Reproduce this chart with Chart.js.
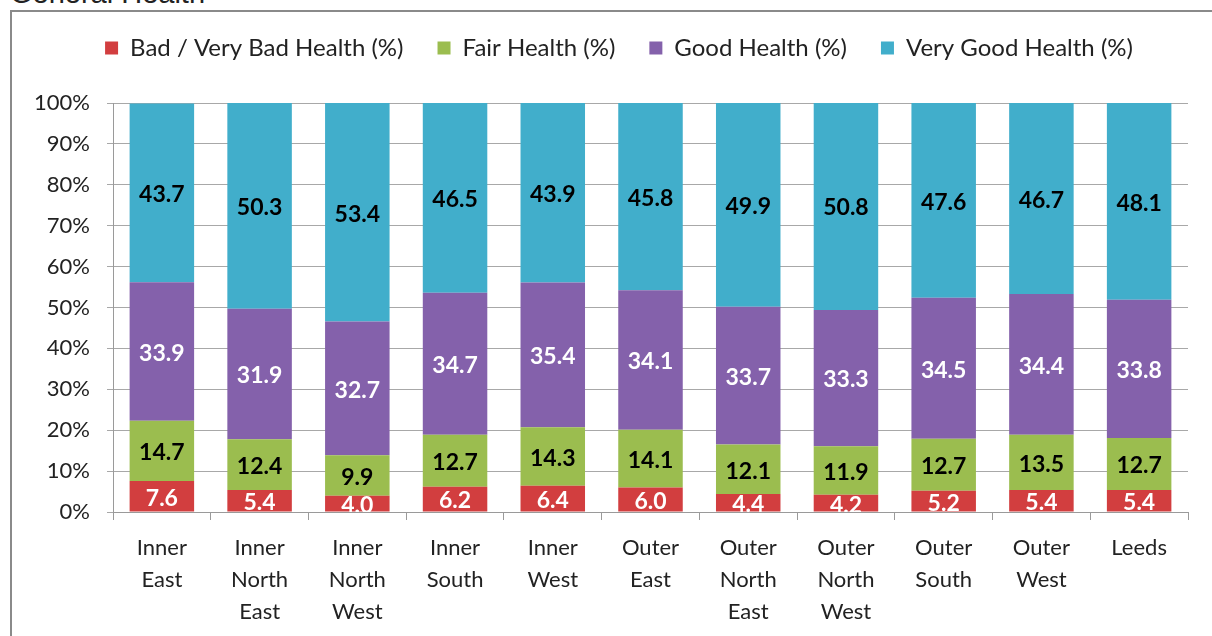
<!DOCTYPE html>
<html>
<head>
<meta charset="utf-8">
<script src="https://cdn.jsdelivr.net/npm/chart.js@4/dist/chart.umd.min.js"></script>
<style>
  html, body { margin: 0; padding: 0; background: #fff; overflow: hidden; }
  #wrap { position: relative; width: 1212px; height: 636px; overflow: hidden; }
  #heading { position: absolute; left: 10px; top: -21px; font: 29px/29px "Liberation Sans", Arial, sans-serif; color: #222; }
  #frame { position: absolute; left: 10px; top: 10px; width: 1240px; height: 660px; border: 2px solid #8a8a8a; box-sizing: border-box; }
  #chartBox { position: absolute; left: 0; top: 0; width: 1212px; height: 636px; }
</style>
</head>
<body>
<div id="wrap">
  <div id="heading">General Health</div>
  <div id="frame"></div>
  <div id="chartBox"><canvas id="healthChart" width="1212" height="636"></canvas></div>
</div>
<script>
'use strict'
const areas = [['Inner', 'East'], ['Inner', 'North', 'East'], ['Inner', 'North', 'West'], ['Inner', 'South'], ['Inner', 'West'],
  ['Outer', 'East'], ['Outer', 'North', 'East'], ['Outer', 'North', 'West'], ['Outer', 'South'], ['Outer', 'West'], ['Leeds']];
const badHealth = [7.6, 5.4, 4.0, 6.2, 6.4, 6.0, 4.4, 4.2, 5.2, 5.4, 5.4];
const fairHealth = [14.7, 12.4, 9.9, 12.7, 14.3, 14.1, 12.1, 11.9, 12.7, 13.5, 12.7];
const goodHealth = [33.9, 31.9, 32.7, 34.7, 35.4, 34.1, 33.7, 33.3, 34.5, 34.4, 33.8];
const veryGoodHealth = [43.7, 50.3, 53.4, 46.5, 43.9, 45.8, 49.9, 50.8, 47.6, 46.7, 48.1];

// extra room between the legend and the plot, and legend nudged right a bit
const legendGap = {
  id: 'legendGap',
  beforeInit(chart) {
    const fit = chart.legend.fit;
    chart.legend.fit = function () {
      fit.bind(chart.legend)();
      this.height += 33;
    };
  },
  afterLayout(chart) {
    chart.legend.left += 50;
  }
};

// writes the value in the middle of each segment, clipped to the plot like the original
const segmentLabels = {
  id: 'segmentLabels',
  afterDatasetsDraw(chart) {
    const ctx = chart.ctx;
    const area = chart.chartArea;
    ctx.save();
    ctx.beginPath();
    ctx.rect(area.left, area.top, area.right - area.left, area.bottom - area.top);
    ctx.clip();
    ctx.font = 'bold 23px Lato, sans-serif';
    ctx.textAlign = 'center';
    ctx.textBaseline = 'middle';
    chart.data.datasets.forEach((ds, i) => {
      const meta = chart.getDatasetMeta(i);
      ctx.fillStyle = ds.labelColor;
      meta.data.forEach((bar, j) => {
        const y = (bar.y + bar.base) / 2;
        ctx.fillText(ds.data[j].toFixed(1), bar.x, y + 2);
      });
    });
    ctx.restore();
  }
};

const ctx = document.getElementById('healthChart').getContext('2d');

const data = {
  labels: areas,
  datasets: [
    { label: 'Bad / Very Bad Health (%)', data: badHealth, backgroundColor: '#d23e3f', labelColor: '#fff' },
    { label: 'Fair Health (%)', data: fairHealth, backgroundColor: '#9bbd4f', labelColor: '#000' },
    { label: 'Good Health (%)', data: goodHealth, backgroundColor: '#8461ab', labelColor: '#fff' },
    { label: 'Very Good Health (%)', data: veryGoodHealth, backgroundColor: '#41aecb', labelColor: '#000' },
  ],
};

const options = {
  responsive: false,
  animation: false,
  barPercentage: 0.66,
  categoryPercentage: 1,
  layout: { padding: { top: 2, right: 24, bottom: 8, left: 0 } },
  plugins: {
    legend: {
      position: 'top',
      labels: {
        boxWidth: 13,
        boxHeight: 13,
        padding: 34,
        color: '#222',
        font: { family: 'Lato, sans-serif', size: 24 },
      },
    },
    tooltip: { enabled: false },
  },
  scales: {
    x: {
      stacked: true,
      afterFit(scale) { scale.height = 116; },
      border: { color: '#9a9a9a', width: 1 },
      grid: { offset: true, drawOnChartArea: false, color: '#9a9a9a', tickLength: 8 },
      ticks: { color: '#222', padding: 12, font: { family: 'Lato, sans-serif', size: 22, lineHeight: 1.4545 }, maxRotation: 0 },
    },
    y: {
      stacked: true,
      min: 0,
      max: 100,
      afterFit(scale) { scale.width = 113; },
      border: { color: '#9a9a9a', width: 1 },
      grid: { color: '#a8a8a8', tickLength: 6 },
      ticks: {
        stepSize: 10,
        color: '#222',
        padding: 17,
        font: { family: 'Lato, sans-serif', size: 22 },
        callback: (v) => v + '%',
      },
    },
  },
};

const healthChart = new Chart(ctx, {
  type: 'bar',
  data: data,
  options: options,
  plugins: [legendGap, segmentLabels],
});
</script>
</body>
</html>
